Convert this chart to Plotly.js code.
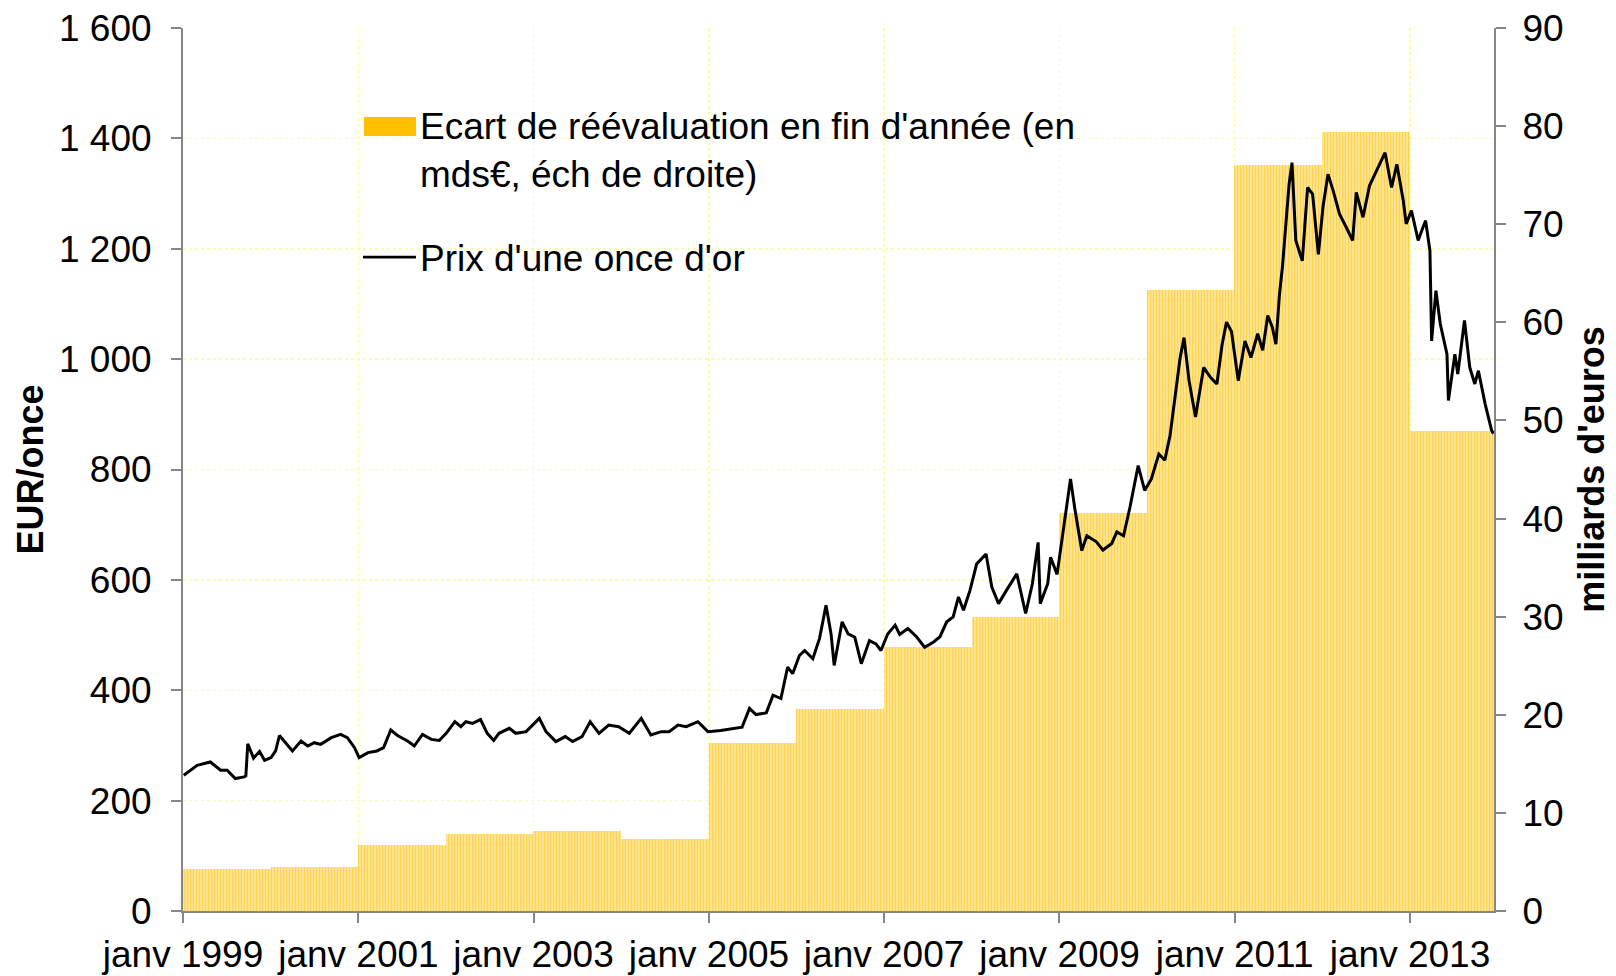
<!DOCTYPE html>
<html>
<head>
<meta charset="utf-8">
<script src="https://cdn.plot.ly/plotly-3.0.1.min.js"></script>
<style>
html,body{margin:0;padding:0;background:#fff;}
#chart{width:1616px;height:976px;}
</style>
</head>
<body>
<div id="chart"></div>
<script>
// ================= DATA =================
// ecart de reevaluation en fin d'annee (mds EUR, ech de droite)
const annees = [1999,2000,2001,2002,2003,2004,2005,2006,2007,2008,2009,2010,2011,2012,2013];
const ecart = [4.25,4.5,6.7,7.85,8.2,7.3,17.15,20.6,26.9,30.0,40.6,63.3,76.0,79.4,48.9];

// prix d'une once d'or (EUR)
const datesPrix = [
'1999-01-04','1999-03-01','1999-04-25','1999-06-07','1999-07-04','1999-08-07','1999-09-13','1999-09-20','1999-09-28','1999-10-22','1999-11-16','1999-12-07',
'2000-01-03','2000-01-22','2000-02-07','2000-02-27','2000-04-01','2000-05-07','2000-06-04','2000-07-01','2000-07-28','2000-09-10','2000-10-19','2000-11-16','2000-12-16',
'2001-01-04','2001-02-10','2001-03-19','2001-04-16','2001-05-16','2001-06-13','2001-07-25','2001-08-22','2001-09-25','2001-11-01','2001-12-04',
'2002-01-02','2002-02-07','2002-03-04','2002-03-25','2002-04-22','2002-05-25','2002-06-22','2002-07-19','2002-08-10','2002-09-22','2002-10-19','2002-12-01','2002-12-28',
'2003-01-25','2003-02-22','2003-04-04','2003-05-13','2003-06-13','2003-07-22','2003-08-25','2003-10-01','2003-11-10','2003-12-22',
'2004-02-04','2004-03-25','2004-05-04','2004-06-16','2004-07-19','2004-08-25','2004-09-28','2004-11-16','2004-12-28',
'2005-02-19','2005-04-13','2005-05-19','2005-06-19','2005-07-16','2005-08-28','2005-09-25','2005-10-28','2005-11-25','2005-12-16',
'2006-01-13','2006-02-04','2006-03-10','2006-04-07','2006-05-04','2006-05-25','2006-06-07','2006-07-10','2006-08-04','2006-09-01','2006-09-28','2006-11-01','2006-11-28','2006-12-19',
'2007-01-16','2007-02-16','2007-03-07','2007-04-10','2007-05-16','2007-06-19','2007-07-25','2007-08-22','2007-09-19','2007-10-16','2007-11-07','2007-11-28','2007-12-25',
'2008-01-22','2008-03-01','2008-03-25','2008-04-22','2008-05-25','2008-07-07','2008-08-13','2008-09-10','2008-10-04','2008-10-13','2008-11-13','2008-11-25','2008-12-22',
'2009-01-25','2009-02-16','2009-03-07','2009-04-04','2009-04-25','2009-06-04','2009-07-01','2009-08-07','2009-08-28','2009-09-25','2009-10-22','2009-11-25','2009-12-22',
'2010-01-19','2010-02-19','2010-03-16','2010-04-07','2010-04-28','2010-05-19','2010-06-04','2010-06-25','2010-07-22','2010-08-25','2010-09-22','2010-10-19','2010-11-10','2010-11-28','2010-12-19',
'2011-01-16','2011-02-13','2011-03-10','2011-04-07','2011-04-28','2011-05-19','2011-06-07','2011-06-22','2011-07-07','2011-07-19','2011-08-04','2011-08-16','2011-08-28','2011-09-13','2011-10-10','2011-11-01','2011-11-22','2011-12-16',
'2012-01-04','2012-01-25','2012-02-16','2012-03-13','2012-04-10','2012-05-07','2012-05-22','2012-06-19','2012-07-16','2012-08-13','2012-09-19','2012-10-16','2012-11-07','2012-12-04','2012-12-16',
'2013-01-07','2013-02-04','2013-02-19','2013-03-07','2013-03-25','2013-04-01','2013-04-19','2013-05-07','2013-06-04','2013-06-10','2013-07-07','2013-07-19','2013-08-16','2013-09-07','2013-09-28','2013-10-13','2013-11-10','2013-12-07','2013-12-15'
];
const prixOr = [
246,264,270,255,255,240,243,245,303,277,289,273,
278,290,318,307,290,308,299,305,302,314,320,314,296,
278,287,290,296,328,318,308,299,320,311,309,
322,343,334,343,340,347,322,309,322,331,322,325,337,
349,325,307,316,307,316,343,322,337,334,
322,349,319,325,325,337,334,343,325,
327,330,333,367,356,359,391,385,442,430,
463,472,457,494,554,502,445,524,502,496,448,490,484,472,
502,518,501,512,497,478,487,497,524,533,569,545,581,
629,647,587,557,581,611,539,593,668,557,593,641,610,
720,783,726,653,680,669,654,666,687,680,732,807,762,
783,828,817,862,937,1003,1039,961,895,985,967,955,1027,1067,1050,
961,1033,1003,1046,1016,1079,1058,1027,1118,1166,1245,1317,1356,1215,1178,1311,1299,1190,
1275,1335,1305,1263,1239,1215,1302,1257,1314,1341,1374,1311,1353,1287,1245,
1269,1215,1233,1251,1196,1033,1124,1064,1009,925,1009,973,1070,985,955,979,919,871,865
];

// ticks de l'axe des dates
const ticksDates = ['1999-01-01','2001-01-01','2003-01-01','2005-01-01','2007-01-01','2009-01-01','2011-01-01','2013-01-01'];
const ticksTexte = ['janv 1999','janv 2001','janv 2003','janv 2005','janv 2007','janv 2009','janv 2011','janv 2013'];

const legendeBarres = "Ecart de réévaluation en fin d'année (en<br>mds€, éch de droite)";
const legendeLigne = "Prix d'une once d'or";

// ================= CHART =================
const FONT = "Liberation Sans, Arial, sans-serif";
const GRIS = "#868686";
const GRILLE = "#FFFF99";
const JOUR = 24*3600*1000;

let milieux = annees.map(a => a + '-07-02');

let barres = {
  type: 'bar',
  x: milieux,
  y: ecart,
  width: milieux.map(() => 366*JOUR),
  yaxis: 'y',
  marker: {
    color: '#FFDF7A',
    line: {width: 0},
    pattern: {shape: '|', fgcolor: '#FFD24A', bgcolor: '#FFEAA6', size: 3, solidity: 0.5, fillmode: 'replace'}
  },
  showlegend: false,
  hoverinfo: 'skip'
};

let ligne = {
  type: 'scatter',
  mode: 'lines',
  x: datesPrix,
  y: prixOr,
  yaxis: 'y2',
  line: {color: '#000000', width: 3},
  showlegend: false
};

let layout = {
  width: 1616,
  height: 976,
  margin: {l: 183, r: 122, t: 28, b: 65},
  paper_bgcolor: '#fff',
  plot_bgcolor: '#fff',
  font: {family: FONT, color: '#000', size: 36},
  separators: ', ',
  bargap: 0,
  xaxis: {
    type: 'date',
    range: ['1999-01-01', '2013-12-17'],
    tickmode: 'array',
    tickvals: ticksDates,
    ticktext: ticksTexte,
    ticks: 'outside', ticklen: 10, tickwidth: 2, tickcolor: GRIS,
    showline: true, linecolor: GRIS, linewidth: 2,
    showgrid: true, gridcolor: GRILLE, griddash: 'dot', gridwidth: 1.5,
    tickfont: {size: 37},
    zeroline: false
  },
  yaxis: {
    side: 'right',
    range: [0, 90],
    tick0: 0, dtick: 10,
    ticks: 'outside', ticklen: 10, tickwidth: 2, tickcolor: GRIS,
    showline: true, linecolor: GRIS, linewidth: 2,
    showgrid: false, zeroline: false,
    tickfont: {size: 37},
    ticklabelstandoff: 9,
    title: {text: "milliards d'euros", font: {size: 36, weight: 'bold'}, standoff: 16}
  },
  yaxis2: {
    overlaying: 'y',
    side: 'left',
    range: [0, 1600],
    tick0: 0, dtick: 200,
    tickformat: ',d',
    ticks: 'outside', ticklen: 10, tickwidth: 2, tickcolor: GRIS,
    showline: true, linecolor: GRIS, linewidth: 2,
    showgrid: true, gridcolor: GRILLE, griddash: 'dot', gridwidth: 1.5,
    zeroline: false,
    tickfont: {size: 37},
    ticklabelstandoff: 12,
    title: {text: 'EUR/once', font: {size: 36, weight: 'bold'}, standoff: 4}
  },
  // legende dessinee a la main (taille des symboles comme l'original)
  shapes: [
    {type: 'rect', xref: 'paper', yref: 'paper', x0: 0.138, x1: 0.1777, y0: 0.8777, y1: 0.8992,
     fillcolor: '#FFC000', line: {width: 0}},
    {type: 'line', xref: 'paper', yref: 'paper', x0: 0.1373, x1: 0.1777, y0: 0.7405, y1: 0.7405,
     line: {color: '#000', width: 2.6}}
  ],
  annotations: [
    {xref: 'paper', yref: 'paper', x: 0.1795, y: 0.861, xanchor: 'left', yanchor: 'middle',
     text: legendeBarres, showarrow: false, align: 'left', font: {size: 37}},
    {xref: 'paper', yref: 'paper', x: 0.1795, y: 0.7395, xanchor: 'left', yanchor: 'middle',
     text: legendeLigne, showarrow: false, align: 'left', font: {size: 37}}
  ]
};

Plotly.newPlot('chart', [barres, ligne], layout, {displayModeBar: false, staticPlot: true});
</script>
</body>
</html>
